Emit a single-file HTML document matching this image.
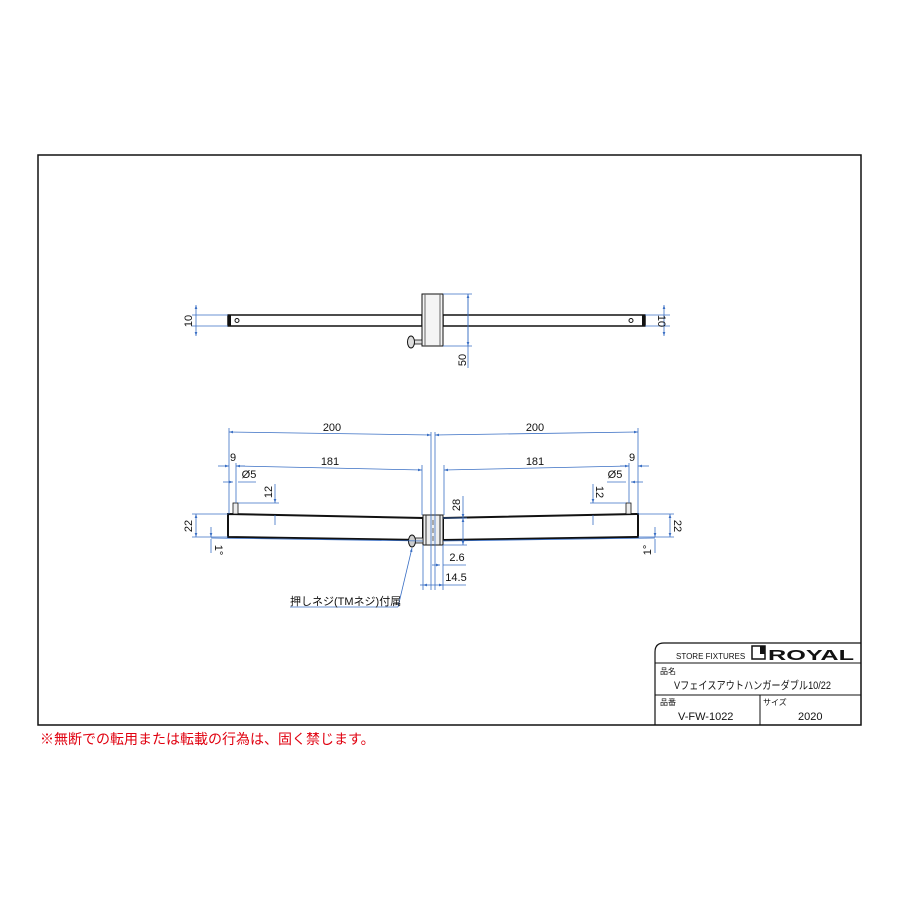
<!DOCTYPE html>
<html><head><meta charset="utf-8"><style>
body{margin:0;background:#fff}
svg{display:block;font-family:"Liberation Sans","Noto Sans CJK JP",sans-serif}
.d{stroke:#3a6fc4;stroke-width:0.8;fill:none}
.t{font-size:11px;fill:#111}
.o{stroke:#111;fill:none}
</style></head><body>
<svg width="900" height="900" viewBox="0 0 900 900">
<defs><marker id="a" viewBox="0 0 6 6" refX="6" refY="3" markerWidth="5" markerHeight="5" orient="auto-start-reverse"><path d="M0,1 L6,3 L0,5z" fill="#3a6fc4"/></marker></defs>
<rect x="38" y="155" width="823" height="570" fill="none" stroke="#111" stroke-width="1.5"/>
<!-- title block -->
<path d="M655,725 V652 Q655,643 664,643 H861" fill="none" stroke="#111" stroke-width="1.2"/>
<line x1="655" y1="663" x2="861" y2="663" stroke="#111"/>
<line x1="655" y1="695" x2="861" y2="695" stroke="#111"/>
<line x1="760" y1="695" x2="760" y2="725" stroke="#111"/>
<text x="676" y="659" font-size="8" fill="#111">STORE FIXTURES</text>
<rect x="752" y="646" width="13" height="13" fill="none" stroke="#111" stroke-width="1.5"/><rect x="760" y="646" width="5" height="8" fill="#111"/>
<text x="768" y="660" font-size="15" font-weight="bold" fill="#111" textLength="86" lengthAdjust="spacingAndGlyphs">ROYAL</text>
<text x="660" y="674" font-size="8" fill="#111">品名</text>
<text x="674" y="689" class="t" textLength="157" lengthAdjust="spacingAndGlyphs">Vフェイスアウトハンガーダブル10/22</text>
<text x="660" y="705" font-size="8" fill="#111">品番</text>
<text x="763" y="705" font-size="8" fill="#111">サイズ</text>
<text x="678" y="720" class="t">V-FW-1022</text>
<text x="798" y="720" class="t">2020</text>
<text x="40" y="744" font-size="14" fill="#e0000f">※無断での転用または転載の行為は、固く禁じます。</text>

<!-- top view -->
<rect x="228" y="315" width="194" height="11" class="o" stroke-width="1.5"/>
<rect x="443" y="315" width="202" height="11" class="o" stroke-width="1.5"/>
<rect x="228" y="315" width="3" height="11" fill="#111"/><rect x="642" y="315" width="3" height="11" fill="#111"/>
<circle cx="237" cy="320.5" r="2" class="o"/><circle cx="631" cy="320.5" r="2" class="o"/>
<rect x="422" y="294" width="21" height="52" fill="#f4f4f4" stroke="#111"/>
<line x1="425" y1="294" x2="425" y2="346" stroke="#666"/><line x1="440" y1="294" x2="440" y2="346" stroke="#666"/>
<rect x="414" y="340" width="8" height="4" fill="#ddd" stroke="#111" stroke-width="0.8"/>
<ellipse cx="411" cy="342" rx="3.5" ry="6" fill="#ddd" stroke="#111"/>
<line class="d" x1="192" y1="315" x2="228" y2="315"/><line class="d" x1="192" y1="326" x2="228" y2="326"/>
<line class="d" x1="196" y1="305" x2="196" y2="336" marker-start="url(#a)" marker-end="url(#a)"/>
<text class="t" transform="translate(192,321) rotate(-90)" text-anchor="middle">10</text>
<line class="d" x1="645" y1="315" x2="670" y2="315"/><line class="d" x1="645" y1="326" x2="670" y2="326"/>
<line class="d" x1="664" y1="305" x2="664" y2="336" marker-start="url(#a)" marker-end="url(#a)"/>
<text class="t" transform="translate(658,321) rotate(90)" text-anchor="middle">10</text>
<line class="d" x1="443" y1="294" x2="472" y2="294"/><line class="d" x1="443" y1="346" x2="472" y2="346"/>
<line class="d" x1="468" y1="294" x2="468" y2="368" marker-start="url(#a)"/>
<line class="d" x1="468" y1="294" x2="468" y2="346" marker-end="url(#a)"/>
<text class="t" transform="translate(466,360) rotate(-90)" text-anchor="middle">50</text>

<!-- front view -->
<path d="M228,514 L423,518 L423,540 L228,537 Z" class="o" stroke-width="2"/>
<path d="M443,518 L638,514 L638,537 L443,540 Z" class="o" stroke-width="2"/>
<rect x="233" y="503" width="5" height="11" fill="#eee" stroke="#111" stroke-width="0.8"/>
<rect x="626" y="503" width="5" height="11" fill="#eee" stroke="#111" stroke-width="0.8"/>
<rect x="423" y="515" width="20" height="30" fill="#eee" stroke="#111"/>
<line x1="426" y1="515" x2="426" y2="545" stroke="#333"/><line x1="440" y1="515" x2="440" y2="545" stroke="#333"/>
<line x1="433" y1="520" x2="433" y2="545" stroke="#666" stroke-dasharray="5,3"/>
<rect x="414" y="538" width="9" height="5" fill="#ddd" stroke="#111" stroke-width="0.8"/>
<ellipse cx="412" cy="541" rx="3.5" ry="6" fill="#ccc" stroke="#111"/>
<!-- 200 -->
<line class="d" x1="229" y1="428" x2="229" y2="514"/><line class="d" x1="638" y1="428" x2="638" y2="514"/>
<line class="d" x1="431" y1="432" x2="431" y2="590"/><line class="d" x1="435" y1="432" x2="435" y2="590"/>
<line class="d" x1="229" y1="432" x2="431" y2="435" marker-start="url(#a)" marker-end="url(#a)"/>
<line class="d" x1="435" y1="435" x2="638" y2="432" marker-start="url(#a)" marker-end="url(#a)"/>
<text class="t" x="332" y="431" text-anchor="middle">200</text>
<text class="t" x="535" y="431" text-anchor="middle">200</text>
<!-- 181 / 9 -->
<line class="d" x1="236" y1="463" x2="236" y2="503"/><line class="d" x1="422" y1="465" x2="422" y2="515"/>
<line class="d" x1="444" y1="465" x2="444" y2="515"/><line class="d" x1="629" y1="463" x2="629" y2="503"/>
<line class="d" x1="236" y1="466" x2="422" y2="470" marker-start="url(#a)" marker-end="url(#a)"/>
<line class="d" x1="444" y1="470" x2="629" y2="466" marker-start="url(#a)" marker-end="url(#a)"/>
<text class="t" x="330" y="465" text-anchor="middle">181</text>
<text class="t" x="535" y="465" text-anchor="middle">181</text>
<line class="d" x1="218" y1="466" x2="229" y2="466" marker-end="url(#a)"/><line class="d" x1="236" y1="466" x2="245" y2="466"/>
<text class="t" x="233" y="461" text-anchor="middle">9</text>
<line class="d" x1="649" y1="466" x2="638" y2="466" marker-end="url(#a)"/><line class="d" x1="629" y1="466" x2="620" y2="466"/>
<text class="t" x="632" y="461" text-anchor="middle">9</text>
<!-- Ø5 -->
<line class="d" x1="223" y1="482" x2="233" y2="482" marker-end="url(#a)"/><line class="d" x1="238" y1="482" x2="256" y2="482"/>
<text class="t" x="249" y="478" text-anchor="middle">Ø5</text>
<line class="d" x1="643" y1="482" x2="631" y2="482" marker-end="url(#a)"/><line class="d" x1="626" y1="482" x2="607" y2="482"/>
<text class="t" x="615" y="478" text-anchor="middle">Ø5</text>
<!-- 12 -->
<line class="d" x1="238" y1="503" x2="279" y2="503"/>
<line class="d" x1="275" y1="484" x2="275" y2="503" marker-end="url(#a)"/><line class="d" x1="275" y1="515" x2="275" y2="525"/>
<text class="t" transform="translate(272,492) rotate(-90)" text-anchor="middle">12</text>
<line class="d" x1="626" y1="503" x2="590" y2="503"/>
<line class="d" x1="593" y1="484" x2="593" y2="503" marker-end="url(#a)"/><line class="d" x1="593" y1="515" x2="593" y2="525"/>
<text class="t" transform="translate(596,492) rotate(90)" text-anchor="middle">12</text>
<!-- 22 -->
<line class="d" x1="192" y1="514" x2="228" y2="514"/><line class="d" x1="192" y1="537" x2="228" y2="537"/>
<line class="d" x1="196" y1="514" x2="196" y2="537" marker-start="url(#a)" marker-end="url(#a)"/>
<text class="t" transform="translate(192,526) rotate(-90)" text-anchor="middle">22</text>
<line class="d" x1="638" y1="514" x2="674" y2="514"/><line class="d" x1="638" y1="537" x2="674" y2="537"/>
<line class="d" x1="670" y1="514" x2="670" y2="537" marker-start="url(#a)" marker-end="url(#a)"/>
<text class="t" transform="translate(674,526) rotate(90)" text-anchor="middle">22</text>
<!-- 1° -->
<line class="d" x1="211" y1="527" x2="211" y2="537" marker-end="url(#a)"/><line class="d" x1="211" y1="539" x2="211" y2="553"/>
<line class="d" x1="211" y1="538" x2="423" y2="541"/>
<text class="t" transform="translate(215,550) rotate(90)" text-anchor="middle">1°</text>
<line class="d" x1="655" y1="527" x2="655" y2="537" marker-end="url(#a)"/><line class="d" x1="655" y1="539" x2="655" y2="553"/>
<line class="d" x1="443" y1="541" x2="655" y2="538"/>
<text class="t" transform="translate(651,550) rotate(-90)" text-anchor="middle">1°</text>
<!-- 28 -->
<line class="d" x1="443" y1="518" x2="467" y2="518"/><line class="d" x1="443" y1="545" x2="467" y2="545"/>
<line class="d" x1="463" y1="496" x2="463" y2="518" marker-end="url(#a)"/>
<line class="d" x1="463" y1="518" x2="463" y2="545" marker-start="url(#a)" marker-end="url(#a)"/>
<text class="t" transform="translate(460,505) rotate(-90)" text-anchor="middle">28</text>
<!-- 2.6 / 14.5 -->
<line class="d" x1="443" y1="545" x2="443" y2="590"/><line class="d" x1="423" y1="545" x2="423" y2="590"/>
<line class="d" x1="432" y1="565" x2="440" y2="565" marker-end="url(#a)"/><line class="d" x1="443" y1="565" x2="466" y2="565"/>
<text class="t" x="457" y="561" text-anchor="middle">2.6</text>
<line class="d" x1="420" y1="585" x2="423" y2="585"/><line class="d" x1="423" y1="585" x2="443" y2="585" marker-start="url(#a)" marker-end="url(#a)"/><line class="d" x1="443" y1="585" x2="466" y2="585"/>
<text class="t" x="456" y="581" text-anchor="middle">14.5</text>
<!-- leader -->
<line class="d" x1="290" y1="607" x2="398" y2="607"/>
<line class="d" x1="398" y1="607" x2="412" y2="548" marker-end="url(#a)"/>
<text class="t" x="290" y="605">押しネジ(TMネジ)付属</text>
</svg>
</body></html>
